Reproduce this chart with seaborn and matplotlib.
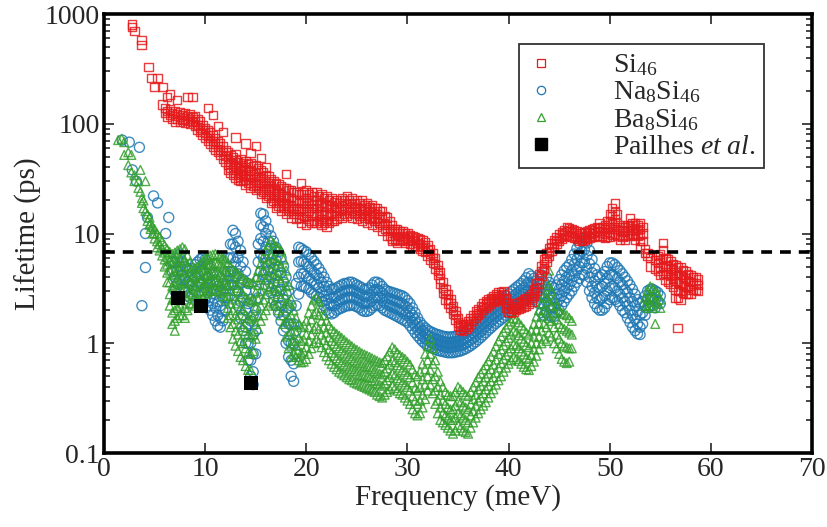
import numpy as np
import pandas as pd
import matplotlib
matplotlib.use("Agg")
import matplotlib.pyplot as plt
from matplotlib.lines import Line2D
from matplotlib.ticker import FixedLocator, FixedFormatter, LogLocator, NullFormatter
import seaborn as sns

# ---------------- data ----------------
# Si46: frequency (meV) and the lifetimes (ps) read at that frequency
si46_freq = [2.8, 3.0, 3.7, 4.4, 4.7, 5.0, 5.3, 5.8, 6.0, 6.25, 6.5, 6.75, 7.0, 7.25, 7.5, 7.75,
             8.0, 8.25, 8.5, 8.75, 9.0, 9.25, 9.5, 9.75, 10.0, 10.25, 10.5, 10.75, 11.0, 11.25,
             11.5, 11.75, 12.0, 12.25, 12.5, 12.75, 13.0, 13.25, 13.5, 13.75, 14.0, 14.25, 14.5,
             14.75, 15.0, 15.25, 15.5, 15.75, 16.0, 16.25, 16.5, 16.75, 17.0, 17.25, 17.5, 17.75,
             18.0, 18.25, 18.5, 18.75, 19.0, 19.25, 19.5, 19.75, 20.0, 20.25, 20.5, 20.75, 21.0,
             21.25, 21.5, 21.75, 22.0, 22.25, 22.5, 22.75, 23.0, 23.25, 23.5, 23.75, 24.0, 24.25,
             24.5, 24.75, 25.0, 25.25, 25.5, 25.75, 26.0, 26.25, 26.5, 26.75, 27.0, 27.25, 27.5,
             27.75, 28.0, 28.25, 28.5, 28.75, 29.0, 29.25, 29.5, 29.75, 30.0, 30.25, 30.5, 30.75,
             31.0, 31.25, 31.5, 31.75, 32.0, 32.25, 32.5, 32.75, 33.0, 33.25, 33.5, 33.75, 34.0,
             34.25, 34.5, 34.75, 35.0, 35.25, 35.5, 35.75, 36.0, 36.25, 36.5, 36.75, 37.0, 37.25,
             37.5, 37.75, 38.0, 38.25, 38.5, 38.75, 39.0, 39.25, 39.5, 39.75, 40.0, 40.25, 40.5,
             40.75, 41.0, 41.25, 41.5, 41.75, 42.0, 42.25, 42.5, 42.75, 43.0, 43.25, 43.5, 43.75,
             44.0, 44.25, 44.5, 44.75, 45.0, 45.25, 45.5, 45.75, 46.0, 46.25, 46.5, 46.75, 47.0,
             47.25, 47.5, 47.75, 48.0, 48.25, 48.5, 48.75, 49.0, 49.25, 49.5, 49.75, 50.0, 50.25,
             50.5, 50.75, 51.0, 51.25, 51.5, 51.75, 52.0, 52.25, 52.5, 52.75, 53.0, 53.25, 53.5,
             53.75, 54.0, 54.5, 54.75, 55.0, 55.25, 55.5, 55.75, 56.0, 56.25, 56.5, 56.7, 56.75,
             57.0, 57.25, 57.5, 57.75, 58.0, 58.25, 58.5, 58.75]
si46_life = [[800, 760], [700], [580, 520], [330], [260], [215], [260], [215, 150], [140, 125],
             [175, 130, 115], [185, 135, 120], [125, 110], [130, 118, 105], [165, 122, 110],
             [128, 115, 104], [120, 108], [125, 112, 102], [175, 118, 106], [122, 110, 100],
             [175, 115, 104], [118, 106, 96], [110, 98, 88], [105, 92, 84], [98, 88, 80],
             [92, 82, 75], [140, 88, 78, 70], [84, 74, 66], [120, 78, 70, 62], [74, 66, 58],
             [95, 70, 62, 55], [66, 58, 52], [84, 62, 55, 48], [58, 51, 45], [55, 48, 42, 38],
             [52, 45, 40, 36], [50, 43, 38, 34], [75, 53, 47, 41, 36, 32], [45, 39, 34, 31],
             [48, 42, 37, 33, 30], [44, 38, 34, 30], [66, 46, 40, 35, 31, 28], [43, 37, 33, 29],
             [54, 44, 38, 33, 29, 26], [41, 35, 31, 27], [63, 42, 36, 31, 28, 25],
             [39, 33, 29, 26], [49, 38, 33, 29, 25, 23], [36, 31, 27, 24],
             [40, 34, 30, 26, 23, 21], [33, 29, 25, 22], [31, 27, 24, 21, 19], [30, 26, 23, 20],
             [29, 25, 22, 19, 17], [28, 24, 21, 18], [27, 23, 20, 18, 16], [26, 22, 19, 17],
             [35, 26, 22, 19, 17, 15], [25, 21, 18, 16], [25, 21, 18, 16, 14], [24, 20, 17, 15],
             [24, 20, 17, 15, 13.5], [23, 19, 16, 14], [29, 23, 19, 16, 14, 12.5],
             [24, 20, 17, 14.5], [25, 21, 18, 15.5, 13.5, 12], [23, 19, 16, 13],
             [24, 20, 17, 14.5, 12.5], [22, 18, 15.5, 13], [24, 20, 17, 14.5, 12.5],
             [22, 18, 15, 13], [23, 19, 16, 13.5, 12], [21, 17.5, 15, 12.5],
             [22, 18, 15.5, 13, 11.5], [20, 17, 14.5, 12.5], [21, 18, 15, 13],
             [19.3, 17, 14.5, 13], [20, 17.5, 15.5, 13.5], [19, 16.5, 14.5], [21, 18, 16, 14],
             [20, 17, 15], [22, 19, 16.5, 14.5], [20, 17.5, 15.5], [21, 18.5, 16, 14],
             [19, 17, 15], [20, 17.5, 15.5, 13.5], [19, 16.5, 14.5], [20, 17, 15, 13],
             [18, 16, 14], [19, 16.5, 14.5, 12.5], [17.5, 15.5, 13.5], [18, 16, 14, 12],
             [17, 15, 13], [17, 15, 13, 11.5], [16, 14, 12.5], [16, 14, 12, 10.5],
             [14.5, 12.5, 11], [14, 12, 10.5, 9.5], [13, 11, 9.5], [12, 10.5, 9, 8.5],
             [11, 9.5, 8.7], [11, 10, 9, 8.2], [10.5, 9.3, 8.5], [10.5, 9.5, 8.7], [10, 9, 8.3],
             [10, 9.2, 8.5], [9.6, 8.8, 8], [9.5, 8.7, 7.8], [9.3, 8.5, 7.7], [9, 8.2, 7.5],
             [8.8, 8, 7.3], [8.7, 7.8, 7], [8.3, 7.5, 6.8], [7.8, 7, 6.3], [7.2, 6.5, 5.8],
             [6.6, 6, 5.4], [6, 5.3, 4.8], [5.2, 4.6, 4.2], [4.4, 3.9, 3.5], [3.6, 3.2, 2.9],
             [3.1, 2.8, 2.5], [2.8, 2.5, 2.3], [2.5, 2.3, 2.1], [2.2, 2.0, 1.85],
             [1.95, 1.8, 1.65], [1.7, 1.55, 1.45], [1.5, 1.4, 1.33], [1.45, 1.35, 1.3],
             [1.5, 1.4, 1.35], [1.6, 1.5, 1.42], [1.7, 1.6, 1.5], [1.8, 1.7, 1.6],
             [1.95, 1.8, 1.7], [2.05, 1.9, 1.8], [2.2, 2.0, 1.9], [2.3, 2.15, 2.0],
             [2.4, 2.25, 2.1], [2.5, 2.35, 2.2], [2.6, 2.45, 2.3], [2.7, 2.55, 2.4],
             [2.8, 2.6, 2.45], [2.9, 2.7, 2.5], [2.95, 2.75, 2.55], [3.0, 2.8, 2.6],
             [2.6, 2.3, 2.1], [2.3, 2.1, 1.95], [2.2, 2.05, 1.9], [2.2, 2.05, 1.95],
             [2.3, 2.1, 2.0], [2.35, 2.2, 2.05], [2.4, 2.25, 2.1], [2.5, 2.3, 2.15],
             [2.6, 2.4, 2.2], [2.7, 2.5, 2.3], [2.8, 2.6, 2.4], [3.1, 2.9, 2.7],
             [3.5, 3.2, 3.0], [4.3, 3.9, 3.5], [5.0, 4.5, 4.1], [5.8, 5.3, 4.8],
             [6.6, 6.0, 5.5], [7.4, 6.8, 6.2], [8.1, 7.5, 6.9], [8.7, 8.1, 7.5],
             [9.2, 8.6, 8.0], [9.8, 9.1, 8.5], [10.3, 9.6, 8.9], [10.8, 10, 9.3],
             [11.4, 10.5, 9.7], [11.2, 10.4, 9.6], [11, 10.2, 9.4], [10.8, 10, 9.2],
             [10.4, 9.6, 8.9], [10.1, 9.3, 8.6], [10, 9.2, 8.5], [10.2, 9.4, 8.7],
             [10.5, 9.7, 8.9], [10.8, 10, 9.2], [11, 10.1, 9.3], [11.2, 10.3, 9.5],
             [11.4, 10.5, 9.6], [12.4, 11.2, 10.2, 9.3], [11.5, 10.5, 9.6], [12, 11, 10, 9.2],
             [13, 11.5, 10.3, 9.4], [15, 13, 11.5, 10.2, 9.3], [17, 14.5, 12.5, 11, 9.8],
             [18.8, 16, 13.5, 11.5, 10], [15, 12.5, 11, 9.6], [12, 10.8, 9.7, 8.8],
             [11.5, 10.4, 9.4], [11.5, 10.5, 9.5, 8.7], [12, 10.8, 9.7], [13.8, 12, 10.8, 9.6],
             [12.5, 11.2, 10], [12.3, 11, 9.8, 8.8], [12, 10.7, 9.5], [12.4, 11, 9.8, 8.5, 7.5],
             [11.5, 10, 8.5], [7.2, 6.6], [6.6, 6.2], [5, 6], [5.7, 4.8], [6.2, 5.4, 4.6],
             [6.5, 5.7, 4.9, 4.2], [8.2, 7.0, 5.9, 5.0, 4.3], [6.0, 5.1, 4.4, 3.8],
             [5.8, 5.0, 4.3, 3.6], [5.6, 4.8, 4.1, 3.5], [5.3, 4.6, 3.9, 3.3],
             [5.1, 4.4, 3.7, 3.1, 2.6], [1.37], [4.9, 4.2, 3.6, 3.0, 2.6],
             [4.9, 4.2, 3.5, 3.0, 2.5], [4.6, 4.0, 3.4, 2.9], [4.5, 3.9, 3.3, 2.8],
             [4.3, 3.7, 3.2, 2.8], [4.2, 3.6, 3.1, 2.8], [4.0, 3.5, 3.1], [4.0, 3.5, 3.1],
             [3.8, 3.4, 3.0]]

# Na8Si46
na8si46_freq = [1.8, 2.5, 2.8, 3.2, 3.5, 3.75, 4.1, 4.3, 4.9, 5.3, 6.1, 6.4, 6.75, 7.0, 7.25,
                7.5, 7.75, 8.0, 8.25, 8.5, 8.75, 9.0, 9.25, 9.5, 9.75, 10.0, 10.25, 10.5, 10.75,
                11.0, 11.25, 11.5, 11.75, 12.0, 12.25, 12.5, 12.75, 13.0, 13.25, 13.5, 13.75,
                14.0, 14.25, 14.5, 14.75, 15.0, 15.25, 15.5, 15.75, 16.0, 16.25, 16.5, 16.75,
                17.0, 17.25, 17.5, 17.75, 18.0, 18.25, 18.5, 18.75, 19.0, 19.25, 19.5, 19.75,
                20.0, 20.25, 20.5, 20.75, 21.0, 21.25, 21.5, 21.75, 22.0, 22.25, 22.5, 22.75,
                23.0, 23.25, 23.5, 23.75, 24.0, 24.25, 24.5, 24.75, 25.0, 25.25, 25.5, 25.75,
                26.0, 26.25, 26.5, 26.75, 27.0, 27.25, 27.5, 27.75, 28.0, 28.25, 28.5, 28.75,
                29.0, 29.25, 29.5, 29.75, 30.0, 30.25, 30.5, 30.75, 31.0, 31.25, 31.5, 31.75,
                32.0, 32.25, 32.5, 32.75, 33.0, 33.25, 33.5, 33.75, 34.0, 34.25, 34.5, 34.75,
                35.0, 35.25, 35.5, 35.75, 36.0, 36.25, 36.5, 36.75, 37.0, 37.25, 37.5, 37.75,
                38.0, 38.25, 38.5, 38.75, 39.0, 39.25, 39.5, 39.75, 40.0, 40.25, 40.5, 40.75,
                41.0, 41.25, 41.5, 41.75, 42.0, 42.25, 42.5, 42.75, 43.0, 43.25, 43.5, 43.75,
                44.0, 44.25, 44.5, 44.75, 45.0, 45.25, 45.5, 45.75, 46.0, 46.25, 46.5, 46.75,
                47.0, 47.25, 47.5, 47.75, 48.0, 48.25, 48.5, 48.75, 49.0, 49.25, 49.5, 49.75,
                50.0, 50.25, 50.5, 50.75, 51.0, 51.25, 51.5, 51.75, 52.0, 52.25, 52.5, 52.75,
                53.0, 53.25, 53.5, 53.75, 54.0, 54.25, 54.5, 54.75, 55.0]
na8si46_life = [[71], [68], [38], [30], [61], [2.2], [10, 4.9], [14], [22], [19], [10], [14],
                [5.5, 4.5], [5.5, 4, 3], [6, 4.5, 3.5], [6.5, 5, 3.8], [5.5, 4.2, 3.2],
                [5, 3.8, 2.9], [4.8, 3.6, 2.7], [4.6, 3.5, 2.6], [4.8, 3.7, 2.8], [5.2, 4.0, 3.0],
                [5.5, 4.3, 3.3], [5.8, 4.5, 3.5], [6, 4.6, 3.5], [5.8, 4.3, 3.2, 2.5],
                [5.3, 3.9, 2.9, 2.2], [4.8, 3.5, 2.6, 2.0], [4.2, 3.1, 2.3, 1.8],
                [3.8, 2.8, 2.1, 1.6], [3.3, 2.4, 1.8, 1.45], [3.0, 2.2, 1.7, 1.4],
                [3.5, 2.6, 2.0, 1.6], [4.5, 3.4, 2.6, 2.0], [6, 4.5, 3.4, 2.6], [8, 6, 4.5, 3.4],
                [10.7, 8, 6, 4.5, 3.4], [10, 7.5, 5.5, 4, 3], [8.5, 6, 4.3, 3, 2.2],
                [7, 5, 3.5, 2.4, 1.7], [5.5, 3.8, 2.6, 1.8, 1.3], [4.5, 3, 2, 1.4, 1.0],
                [3.5, 2.3, 1.5, 1.0, 0.7], [2.5, 1.6, 1.0, 0.7, 0.5], [1.8, 1.2, 0.8, 0.55, 0.42],
                [3, 2, 1.3, 0.8], [8, 5.5, 3.8, 2.6], [15.3, 12, 9, 6.5, 4.5],
                [15, 11.5, 8.5, 6, 4.2], [13, 10, 7.5, 5.4, 3.8], [11, 8.5, 6.3, 4.6, 3.3],
                [9.5, 7.3, 5.4, 4.0, 2.9], [8.5, 6.5, 4.8, 3.5, 2.5], [7.5, 5.7, 4.2, 3.0, 2.2],
                [6.8, 5.0, 3.6, 2.6, 1.9], [6, 4.4, 3.1, 2.2, 1.6], [5, 3.6, 2.5, 1.8, 1.3],
                [4, 2.8, 2.0, 1.4, 1.0], [3, 2.1, 1.5, 1.05, 0.75], [2.2, 1.5, 1.0, 0.7, 0.5],
                [1.5, 1.0, 0.65, 0.45], [3.5, 2.2, 1.3, 0.8], [7.5, 5.5, 4.0, 2.8],
                [7.3, 5.6, 4.3, 3.3], [7, 5.5, 4.3, 3.3], [6.8, 5.3, 4.1, 3.2],
                [6.4, 5.0, 3.9, 3.1], [6, 4.7, 3.7, 2.9], [5.6, 4.4, 3.5, 2.8],
                [5.2, 4.2, 3.4, 2.7], [4.8, 3.9, 3.2, 2.6], [4.4, 3.6, 2.9, 2.4],
                [4, 3.3, 2.7, 2.2], [3.6, 3.0, 2.5, 2.0], [3.3, 2.8, 2.3, 1.9],
                [3.1, 2.6, 2.2, 1.85], [3.1, 2.6, 2.2, 1.9], [3.2, 2.7, 2.3, 2.0],
                [3.3, 2.8, 2.4, 2.05], [3.4, 2.9, 2.5, 2.1], [3.5, 3.0, 2.55, 2.15],
                [3.5, 3.0, 2.6, 2.2], [3.6, 3.05, 2.6, 2.2], [3.6, 3.1, 2.65, 2.25],
                [3.5, 3.0, 2.6, 2.2], [3.4, 2.9, 2.5, 2.15], [3.3, 2.85, 2.45, 2.1],
                [3.2, 2.75, 2.35, 2.0], [3.1, 2.65, 2.3, 1.95], [3.1, 2.65, 2.3, 1.95],
                [3.2, 2.75, 2.35, 2.0], [3.4, 2.9, 2.45, 2.1], [3.6, 3.05, 2.6, 2.2],
                [3.6, 3.1, 2.65, 2.25], [3.5, 3.0, 2.6, 2.2], [3.3, 2.85, 2.45, 2.1],
                [3.1, 2.7, 2.35, 2.0], [3.0, 2.6, 2.25, 1.95], [2.95, 2.55, 2.2, 1.9],
                [2.9, 2.5, 2.15, 1.85], [2.85, 2.45, 2.1, 1.8], [2.8, 2.4, 2.05, 1.75],
                [2.75, 2.35, 2.0, 1.7], [2.7, 2.3, 1.95, 1.65], [2.6, 2.2, 1.85, 1.6],
                [2.45, 2.1, 1.8, 1.55], [2.3, 1.95, 1.7, 1.45], [2.1, 1.8, 1.55, 1.35],
                [1.9, 1.65, 1.45, 1.25], [1.7, 1.5, 1.33, 1.17], [1.55, 1.38, 1.23, 1.1],
                [1.45, 1.3, 1.16, 1.04], [1.38, 1.24, 1.1, 0.99], [1.32, 1.18, 1.06, 0.95],
                [1.28, 1.15, 1.03, 0.92], [1.25, 1.12, 1.0, 0.9], [1.22, 1.1, 0.98, 0.88],
                [1.2, 1.08, 0.96, 0.86], [1.18, 1.06, 0.95, 0.85], [1.16, 1.04, 0.93, 0.84],
                [1.15, 1.03, 0.92, 0.83], [1.14, 1.02, 0.91, 0.82], [1.14, 1.02, 0.91, 0.82],
                [1.15, 1.03, 0.92, 0.82], [1.16, 1.04, 0.93, 0.83], [1.18, 1.05, 0.94, 0.84],
                [1.2, 1.07, 0.95, 0.85], [1.22, 1.09, 0.97, 0.87], [1.25, 1.12, 1.0, 0.89],
                [1.3, 1.16, 1.03, 0.92], [1.35, 1.2, 1.07, 0.95], [1.4, 1.25, 1.11, 0.99],
                [1.47, 1.31, 1.16, 1.03], [1.55, 1.38, 1.22, 1.08], [1.63, 1.45, 1.28, 1.13],
                [1.72, 1.52, 1.35, 1.19], [1.82, 1.6, 1.42, 1.25], [1.92, 1.7, 1.5, 1.32],
                [2.02, 1.78, 1.57, 1.38], [2.12, 1.87, 1.65, 1.45], [2.22, 1.96, 1.73, 1.52],
                [2.33, 2.05, 1.8, 1.58], [2.45, 2.15, 1.88, 1.65], [2.57, 2.25, 1.97, 1.72],
                [2.7, 2.36, 2.06, 1.8], [2.82, 2.47, 2.15, 1.88], [2.95, 2.58, 2.25, 1.96],
                [3.08, 2.7, 2.35, 2.05], [3.22, 2.82, 2.45, 2.14], [3.36, 2.94, 2.56, 2.23],
                [3.5, 3.06, 2.66, 2.32], [3.7, 3.2, 2.78, 2.42], [3.95, 3.4, 2.9, 2.5],
                [4.3, 3.6, 3.05, 2.6], [4.1, 3.5, 3.0, 2.6], [3.9, 3.35, 2.9, 2.5],
                [3.7, 3.2, 2.8, 2.4], [3.6, 3.1, 2.7, 2.3], [4.2, 3.4, 2.8, 2.3, 1.9],
                [4.6, 3.6, 2.8, 2.2, 1.8], [4.0, 3.1, 2.4, 1.9], [3.6, 2.8, 2.2, 1.8],
                [3.3, 2.6, 2.1, 1.75], [3.2, 2.6, 2.1, 1.75], [3.4, 2.8, 2.3, 1.9],
                [3.8, 3.1, 2.5, 2.0], [4.2, 3.4, 2.7, 2.2], [4.6, 3.7, 3.0, 2.4],
                [4.9, 4.0, 3.2, 2.6], [5.2, 4.2, 3.4, 2.8], [5.8, 4.6, 3.7, 3.0],
                [6.5, 5.2, 4.1, 3.3], [7.3, 5.8, 4.6, 3.6], [8.1, 6.4, 5.0, 3.9],
                [8.7, 6.9, 5.4, 4.2], [9, 7.1, 5.5, 4.2], [8.2, 6.3, 4.8, 3.6],
                [7, 5.3, 4.0, 3.0], [5.8, 4.4, 3.3, 2.6], [4.8, 3.7, 2.9, 2.3],
                [4.2, 3.3, 2.6, 2.1], [4.0, 3.2, 2.5, 2.0], [4.2, 3.3, 2.6, 2.0],
                [4.5, 3.5, 2.7, 2.1], [5.0, 3.9, 3.0, 2.3], [5.4, 4.2, 3.2, 2.5],
                [5.4, 4.2, 3.3, 2.6], [5.2, 4.1, 3.2, 2.5], [4.9, 3.9, 3.0, 2.4],
                [4.6, 3.6, 2.8, 2.2], [4.3, 3.4, 2.6, 2.0], [4.0, 3.1, 2.4, 1.9],
                [3.7, 2.9, 2.2, 1.7], [3.4, 2.6, 2.0, 1.55], [3.1, 2.4, 1.8, 1.4],
                [2.8, 2.2, 1.65, 1.3], [2.5, 1.95, 1.5, 1.22], [2.3, 1.8, 1.4, 1.2],
                [2.4, 1.9, 1.5], [2.7, 2.2, 1.8], [3.0, 2.5, 2.1], [3.1, 2.6, 2.2],
                [3.1, 2.6, 2.2], [3.0, 2.5, 2.1], [2.9, 2.4], [2.7, 2.3]]

# Ba8Si46
ba8si46_freq = [1.4, 1.75, 2.0, 2.4, 2.7, 3.0, 3.4, 3.6, 3.75, 3.9, 4.1, 4.3, 4.5, 4.6, 4.8,
                5.0, 5.25, 5.5, 5.75, 6.0, 6.25, 6.5, 6.75, 7.0, 7.25, 7.5, 7.75, 8.0, 8.25,
                8.5, 8.75, 9.0, 9.25, 9.5, 9.75, 10.0, 10.25, 10.5, 10.75, 11.0, 11.25, 11.5,
                11.75, 12.0, 12.25, 12.5, 12.75, 13.0, 13.25, 13.5, 13.75, 14.0, 14.25, 14.5,
                14.75, 15.0, 15.25, 15.5, 15.75, 16.0, 16.25, 16.5, 16.75, 17.0, 17.25, 17.5,
                17.75, 18.0, 18.25, 18.5, 18.75, 19.0, 19.25, 19.5, 19.75, 20.0, 20.25, 20.5,
                20.75, 21.0, 21.25, 21.5, 21.75, 22.0, 22.25, 22.5, 22.75, 23.0, 23.25, 23.5,
                23.75, 24.0, 24.25, 24.5, 24.75, 25.0, 25.25, 25.5, 25.75, 26.0, 26.25, 26.5,
                26.75, 27.0, 27.25, 27.5, 27.75, 28.0, 28.25, 28.5, 28.75, 29.0, 29.25, 29.5,
                29.75, 30.0, 30.25, 30.5, 30.75, 31.0, 31.25, 31.5, 31.75, 32.0, 32.25, 32.5,
                32.75, 33.0, 33.25, 33.5, 33.75, 34.0, 34.25, 34.5, 34.75, 35.0, 35.25, 35.5,
                35.75, 36.0, 36.25, 36.5, 36.75, 37.0, 37.25, 37.5, 37.75, 38.0, 38.25, 38.5,
                38.75, 39.0, 39.25, 39.5, 39.75, 40.0, 40.25, 40.5, 40.75, 41.0, 41.25, 41.5,
                41.75, 42.0, 42.25, 42.5, 42.75, 43.0, 43.25, 43.5, 43.75, 44.0, 44.25, 44.5,
                44.75, 45.0, 45.25, 45.5, 45.75, 46.0, 46.25, 53.5, 53.75, 54.0, 54.25, 54.5,
                54.75, 55.0]
ba8si46_life = [[71], [73], [68, 52], [55, 42], [52, 36], [34, 30], [30, 26], [38, 24], [21, 19],
                [17, 20], [30, 16], [15, 13], [14, 12], [12.4, 11], [11.5, 10], [11, 10, 9],
                [10, 8.5, 7.5], [9.3, 8, 7], [8.5, 7.3, 6.3], [7.8, 6.7, 5.8, 5],
                [7.2, 6.1, 5.2, 4.4, 3.6], [6.8, 5.6, 4.6, 3.6, 2.8, 2.2],
                [6.5, 5.3, 4.2, 3.3, 2.5, 1.9, 1.5], [6.7, 5.4, 4.3, 3.4, 2.6, 2.0, 1.6, 1.3],
                [7.0, 5.6, 4.5, 3.5, 2.7, 2.1, 1.7], [7.2, 5.8, 4.6, 3.6, 2.8, 2.2, 1.8],
                [7.5, 6.0, 4.7, 3.7, 2.9, 2.3, 1.8], [7.2, 5.7, 4.5, 3.5, 2.7, 2.1, 1.7],
                [6.3, 5.0, 4.0, 3.2, 2.5, 2.0], [5.5, 4.4, 3.6, 2.9, 2.3],
                [5.0, 4.1, 3.4, 2.8, 2.3], [4.8, 4.0, 3.3, 2.7, 2.2], [5.0, 4.2, 3.5, 2.9, 2.4],
                [5.3, 4.4, 3.7, 3.0, 2.5], [5.6, 4.7, 3.9, 3.2, 2.6], [5.9, 4.9, 4.1, 3.4, 2.8],
                [6.1, 5.1, 4.2, 3.5, 2.9], [6.3, 5.2, 4.3, 3.6, 3.0], [6.4, 5.3, 4.4, 3.6, 3.0],
                [6.5, 5.4, 4.5, 3.7, 3.1], [6.4, 5.3, 4.4, 3.6, 3.0], [6.2, 5.1, 4.2, 3.5, 2.9],
                [6.0, 4.9, 4.0, 3.3, 2.7], [5.8, 4.7, 3.8, 3.1, 2.5],
                [5.4, 4.3, 3.4, 2.7, 2.1, 1.7], [5.0, 3.9, 3.0, 2.3, 1.8, 1.4],
                [4.7, 3.6, 2.7, 2.0, 1.5, 1.1], [4.5, 3.4, 2.5, 1.8, 1.3, 0.95],
                [4.3, 3.2, 2.3, 1.65, 1.2, 0.85], [4.1, 3.0, 2.1, 1.5, 1.05, 0.75],
                [3.9, 2.8, 2.0, 1.4, 1.0, 0.7], [3.7, 2.6, 1.8, 1.3, 0.9, 0.62],
                [3.6, 2.5, 1.7, 1.2, 0.82, 0.57], [3.5, 2.4, 1.65, 1.15, 0.8, 0.57],
                [3.6, 2.5, 1.75, 1.2, 0.85], [4.0, 2.9, 2.1, 1.5, 1.1],
                [4.6, 3.4, 2.5, 1.8, 1.35], [5.3, 4.0, 3.0, 2.2, 1.6], [6.1, 4.6, 3.4, 2.5, 1.8],
                [7.0, 5.2, 3.8, 2.8, 2.0], [7.9, 5.8, 4.2, 3.1, 2.2], [8.7, 6.3, 4.6, 3.3, 2.4],
                [8.2, 6.0, 4.4, 3.2, 2.3], [7.6, 5.6, 4.1, 3.0, 2.2], [7.3, 5.3, 3.9, 2.8, 2.0],
                [7.0, 5.0, 3.6, 2.6, 1.8], [5.8, 4.2, 3.0, 2.1, 1.5], [4.6, 3.3, 2.3, 1.6, 1.15],
                [3.4, 2.4, 1.7, 1.2, 0.9], [2.5, 1.8, 1.3, 0.95, 0.75], [2.0, 1.45, 1.05, 0.8],
                [1.7, 1.25, 0.95, 0.75], [1.5, 1.12, 0.87, 0.7], [1.4, 1.05, 0.82, 0.67],
                [1.45, 1.08, 0.84, 0.68], [1.6, 1.2, 0.92, 0.72], [1.9, 1.4, 1.05, 0.8],
                [2.2, 1.65, 1.2, 0.9], [2.5, 1.85, 1.35, 1.0], [2.6, 1.95, 1.45, 1.1],
                [2.4, 1.8, 1.35, 1.02], [2.1, 1.6, 1.2, 0.92], [1.8, 1.4, 1.07, 0.83],
                [1.6, 1.25, 0.97, 0.76], [1.45, 1.13, 0.88, 0.7], [1.35, 1.05, 0.82, 0.65],
                [1.28, 0.99, 0.77, 0.61], [1.22, 0.94, 0.73, 0.58], [1.17, 0.9, 0.7, 0.55],
                [1.12, 0.86, 0.67, 0.53], [1.07, 0.82, 0.64, 0.51], [1.02, 0.79, 0.62, 0.49],
                [0.98, 0.76, 0.6, 0.47], [0.94, 0.73, 0.58, 0.46], [0.9, 0.7, 0.56, 0.44],
                [0.87, 0.68, 0.54, 0.43], [0.84, 0.66, 0.52, 0.42], [0.81, 0.64, 0.51, 0.41],
                [0.79, 0.62, 0.5, 0.4], [0.77, 0.61, 0.49, 0.39], [0.75, 0.6, 0.48, 0.38],
                [0.73, 0.58, 0.46, 0.37], [0.71, 0.56, 0.45, 0.36], [0.69, 0.54, 0.43, 0.34],
                [0.67, 0.53, 0.42, 0.33], [0.66, 0.52, 0.41, 0.32], [0.7, 0.55, 0.43, 0.34],
                [0.76, 0.59, 0.46, 0.36], [0.84, 0.64, 0.49, 0.38], [0.92, 0.7, 0.53, 0.41],
                [0.88, 0.67, 0.51, 0.39], [0.82, 0.63, 0.48, 0.37], [0.78, 0.6, 0.46, 0.35],
                [0.75, 0.57, 0.44, 0.34], [0.72, 0.55, 0.42, 0.32], [0.68, 0.52, 0.4, 0.3],
                [0.64, 0.49, 0.37, 0.28], [0.58, 0.44, 0.33, 0.25], [0.52, 0.39, 0.3, 0.23],
                [0.5, 0.37, 0.28, 0.22], [0.55, 0.4, 0.3, 0.23], [0.65, 0.47, 0.34, 0.26],
                [0.8, 0.58, 0.42, 0.31], [0.95, 0.7, 0.5, 0.37], [1.1, 0.8, 0.57, 0.42],
                [0.9, 0.65, 0.47, 0.35], [0.7, 0.5, 0.37, 0.28], [0.55, 0.4, 0.3, 0.23],
                [0.45, 0.34, 0.26, 0.2], [0.4, 0.3, 0.23, 0.19], [0.36, 0.28, 0.22, 0.18],
                [0.34, 0.26, 0.21, 0.17], [0.33, 0.25, 0.2, 0.16], [0.33, 0.25, 0.2, 0.15],
                [0.36, 0.27, 0.21, 0.16], [0.4, 0.3, 0.23, 0.18], [0.38, 0.29, 0.22, 0.17],
                [0.36, 0.27, 0.21, 0.16], [0.34, 0.26, 0.2, 0.155], [0.33, 0.25, 0.19, 0.15],
                [0.36, 0.28, 0.22, 0.17], [0.4, 0.31, 0.24, 0.19], [0.44, 0.34, 0.27, 0.21],
                [0.49, 0.38, 0.3, 0.23], [0.53, 0.41, 0.32, 0.25], [0.58, 0.45, 0.35, 0.27],
                [0.63, 0.49, 0.38, 0.29], [0.69, 0.53, 0.41, 0.32], [0.76, 0.58, 0.45, 0.35],
                [0.84, 0.64, 0.49, 0.38], [0.94, 0.71, 0.54, 0.42], [1.05, 0.8, 0.6, 0.46],
                [1.16, 0.88, 0.66, 0.5], [1.27, 0.96, 0.72, 0.55], [1.38, 1.04, 0.78, 0.6],
                [1.48, 1.12, 0.84, 0.65], [1.58, 1.2, 0.9, 0.7], [1.7, 1.3, 0.98, 0.75],
                [1.65, 1.25, 0.95, 0.72], [1.55, 1.18, 0.9, 0.69], [1.45, 1.1, 0.84, 0.65],
                [1.35, 1.03, 0.79, 0.61], [1.25, 0.96, 0.74, 0.58], [1.2, 0.92, 0.72, 0.57],
                [1.3, 1.0, 0.78, 0.62], [1.5, 1.15, 0.88, 0.68], [1.75, 1.33, 1.0, 0.77],
                [2.0, 1.52, 1.15, 0.88], [2.3, 1.75, 1.3, 1.0], [2.7, 2.0, 1.5, 1.1],
                [3.5, 2.6, 1.9, 1.4, 1.05], [4.6, 3.3, 2.4, 1.7, 1.25], [3.0, 2.2, 1.6, 1.15],
                [2.5, 1.9, 1.4, 1.0], [2.2, 1.65, 1.2, 0.9], [2.0, 1.5, 1.1, 0.8],
                [1.9, 1.4, 1.0, 0.72], [1.85, 1.35, 0.95, 0.68], [1.8, 1.3, 0.92, 0.66],
                [1.7, 1.25, 0.9, 0.68], [1.6, 1.2, 0.9], [2.6, 2.2], [3.0, 2.5, 2.1],
                [3.3, 2.7, 2.2], [3.2, 2.6, 2.1], [3.0, 2.4, 1.5], [2.8, 2.3], [2.5, 2.1]]

pailhes_freq = [7.3, 9.6, 14.5]
pailhes_life = [2.6, 2.2, 0.43]

threshold = 6.8

series_labels = ["Si$_{46}$", "Na$_{8}$Si$_{46}$", "Ba$_{8}$Si$_{46}$", "Pailhes $\\mathit{et\\ al}$."]
x_ticks = [0, 10, 20, 30, 40, 50, 60, 70]
y_ticks = [0.1, 1, 10, 100, 1000]
y_tick_labels = ["0.1", "1", "10", "100", "1000"]


def expand(freq, life):
    xs, ys = [], []
    for f, vals in zip(freq, life):
        for v in vals:
            xs.append(f)
            ys.append(v)
    return pd.DataFrame({"freq": xs, "life": ys})


df_si = expand(si46_freq, si46_life)
df_na = expand(na8si46_freq, na8si46_life)
df_ba = expand(ba8si46_freq, ba8si46_life)
df_p = pd.DataFrame({"freq": pailhes_freq, "life": pailhes_life})

# ---------------- style ----------------
sns.set_style("ticks")
plt.rcParams["font.family"] = ["Liberation Serif", "DejaVu Serif"]
plt.rcParams["mathtext.fontset"] = "custom"
plt.rcParams["mathtext.rm"] = "Liberation Serif"
plt.rcParams["mathtext.it"] = "Liberation Serif:italic"

RED = "#e41a1c"
BLUE = "#1f78b4"
GREEN = "#33a02c"

fig = plt.figure(figsize=(8.28, 5.27), dpi=100)
ax = fig.add_axes([0.1256, 0.1404, 0.8551, 0.833])

sns.scatterplot(data=df_na, x="freq", y="life", marker="o", s=52, facecolors="none",
                edgecolor=BLUE, linewidth=1.0, alpha=0.85, ax=ax)
sns.scatterplot(data=df_ba, x="freq", y="life", marker="^", s=40, facecolors="none",
                edgecolor=GREEN, linewidth=1.0, alpha=0.85, ax=ax)
sns.scatterplot(data=df_si, x="freq", y="life", marker="s", s=36, facecolors="none",
                edgecolor=RED, linewidth=1.0, alpha=0.85, ax=ax)
sns.scatterplot(data=df_p, x="freq", y="life", marker="s", s=90, color="black",
                edgecolor="black", linewidth=0, ax=ax, zorder=5)

ax.axhline(threshold, color="black", linestyle=(0, (3, 2.2)), linewidth=2.6, zorder=6)

ax.set_yscale("log")
ax.set_xlim(0, 70)
ax.set_ylim(0.1, 1000)
ax.xaxis.set_major_locator(FixedLocator(x_ticks))
ax.yaxis.set_major_locator(FixedLocator(y_ticks))
ax.yaxis.set_major_formatter(FixedFormatter(y_tick_labels))
ax.yaxis.set_minor_locator(LogLocator(base=10, subs=np.arange(2, 10)))
ax.yaxis.set_minor_formatter(NullFormatter())

ax.tick_params(which="both", direction="in", top=True, right=True, width=1.2)
ax.tick_params(which="major", length=7, labelsize=20, pad=3)
ax.tick_params(which="minor", length=4)
for sp in ax.spines.values():
    sp.set_linewidth(2.6)
    sp.set_color("black")

ax.set_xlabel("Frequency (meV)", fontsize=21, labelpad=1)
ax.set_ylabel("Lifetime (ps)", fontsize=21, labelpad=2)

handles = [
    Line2D([], [], linestyle="none", marker="s", markersize=5.5, markerfacecolor="none",
           markeredgecolor=RED, markeredgewidth=0.9),
    Line2D([], [], linestyle="none", marker="o", markersize=6, markerfacecolor="none",
           markeredgecolor=BLUE, markeredgewidth=0.9),
    Line2D([], [], linestyle="none", marker="^", markersize=5.5, markerfacecolor="none",
           markeredgecolor=GREEN, markeredgewidth=0.9),
    Line2D([], [], linestyle="none", marker="s", markersize=8.5, markerfacecolor="black",
           markeredgecolor="black"),
]
leg = ax.legend(handles, series_labels, loc="upper right", bbox_to_anchor=(0.932, 0.9317),
                fontsize=20, frameon=True, fancybox=False, edgecolor="black",
                handlelength=1.0, handletextpad=2.1, borderpad=0.3, labelspacing=0.05,
                borderaxespad=0)
leg.get_frame().set_linewidth(1.3)

fig.savefig("out.png", dpi=100)
